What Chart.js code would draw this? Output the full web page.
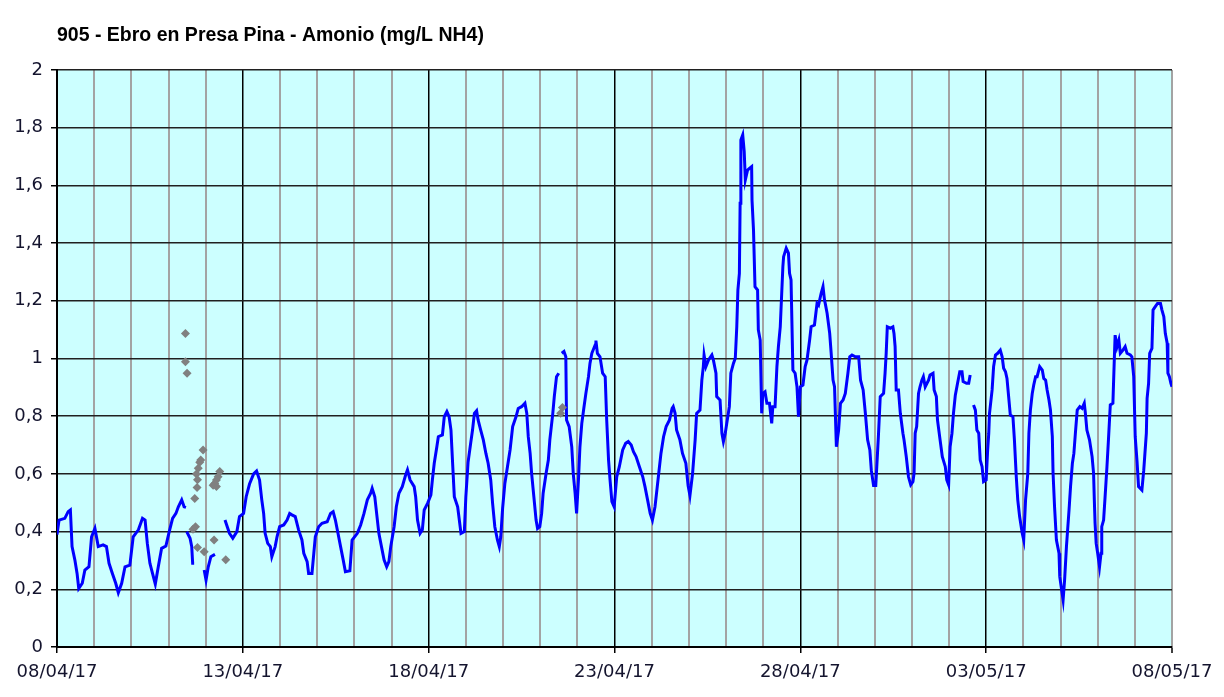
<!DOCTYPE html>
<html>
<head>
<meta charset="utf-8">
<script src="https://cdn.jsdelivr.net/npm/chart.js@4.4.1/dist/chart.umd.min.js"></script>
<style>
html,body{margin:0;padding:0;background:#ffffff;}
#wrap{width:1224px;height:697px;position:relative;}
</style>
</head>
<body>
<div id="wrap"><canvas id="c"></canvas></div>
<script>
const chartTitle = '905 - Ebro en Presa Pina - Amonio (mg/L NH4)';
const tickLabels = ['08/04/17','13/04/17','18/04/17','23/04/17','28/04/17','03/05/17','08/05/17'];

// days since 08/04/17 00:00 (null value = gap in the record)
const blueDays = [
0,0.055,0.21,0.30,0.36,0.405,0.48,0.54,0.585,0.68,
0.75,0.86,0.93,1.02,1.11,1.24,1.33,1.40,1.49,1.58,
1.65,1.74,1.83,1.96,2.05,2.19,2.30,2.37,2.43,2.50,
2.57,2.645,2.725,2.815,2.93,3.02,3.11,3.20,3.265,3.355,
3.42,3.47,3.48,3.49,3.58,3.625,3.65,3.69,3.8,3.96,
4.01,4.07,4.14,4.25,4.4,4.52,4.64,4.73,4.84,4.91,
5.02,5.09,5.18,5.29,5.37,5.45,5.51,5.56,5.60,5.67,
5.74,5.78,5.87,5.92,5.99,6.10,6.19,6.26,6.32,6.41,
6.50,6.59,6.64,6.73,6.77,6.86,6.91,6.95,7.04,7.13,
7.27,7.36,7.43,7.49,7.56,7.63,7.70,7.76,7.88,7.94,
8.08,8.17,8.26,8.35,8.44,8.48,8.55,8.60,8.66,8.73,
8.80,8.87,8.93,8.98,9.07,9.13,9.20,9.29,9.38,9.43,
9.50,9.61,9.65,9.70,9.77,9.83,9.88,9.97,10.06,10.10,
10.15,10.22,10.26,10.37,10.42,10.49,10.55,10.60,10.64,10.69,
10.78,10.87,10.96,11.00,11.06,11.13,11.18,11.23,11.29,11.33,
11.40,11.47,11.54,11.60,11.67,11.72,11.78,11.85,11.90,11.94,
11.99,12.05,12.12,12.19,12.26,12.35,12.41,12.50,12.59,12.64,
12.68,12.73,12.77,12.83,12.89,12.93,12.99,13.04,13.08,13.16,
13.22,13.26,13.34,13.38,13.44,13.50,13.54,13.58,13.64,13.69,
13.71,13.78,13.85,13.89,13.94,13.98,14.03,14.07,14.12,14.18,
14.23,14.30,14.34,14.39,14.48,14.50,14.54,14.61,14.68,14.75,
14.79,14.84,14.88,14.93,14.99,15.06,15.13,15.22,15.30,15.37,
15.45,15.51,15.58,15.67,15.76,15.82,15.89,15.96,16.02,16.09,
16.14,16.18,16.25,16.32,16.39,16.48,16.55,16.58,16.63,16.67,
16.76,16.83,16.92,16.98,17.03,17.10,17.17,17.21,17.30,17.35,
17.39,17.41,17.46,17.53,17.62,17.66,17.73,17.75,17.84,17.89,
17.93,17.98,18.02,18.09,18.13,18.20,18.25,18.29,18.32,18.36,
18.38,18.40,18.45,18.49,18.52,18.58,18.63,18.69,18.70,18.74,
18.78,18.85,18.87,18.92,18.96,18.99,19.05,19.10,19.17,19.23,
19.26,19.32,19.37,19.41,19.46,19.53,19.55,19.62,19.68,19.71,
19.75,19.80,19.86,19.91,19.95,20.00,20.07,20.13,20.18,20.25,
20.29,20.38,20.45,20.49,20.56,20.61,20.65,20.67,20.72,20.79,
20.83,20.88,20.92,20.97,21.03,21.08,21.15,21.21,21.28,21.33,
21.39,21.48,21.57,21.62,21.69,21.75,21.81,21.87,21.91,21.97,
22.03,22.10,22.15,22.24,22.28,22.31,22.34,22.42,22.49,22.52,
22.55,22.58,22.64,22.69,22.76,22.79,22.85,22.91,22.97,23.03,
23.06,23.09,23.13,23.18,23.22,23.27,23.31,23.36,23.45,23.49,
23.57,23.60,23.66,23.69,23.76,23.82,23.90,23.94,23.99,24.03,
24.08,24.12,24.17,24.23,24.29,24.35,24.38,24.47,24.53,24.57,
24.62,24.66,24.71,24.75,24.80,24.84,24.89,24.93,25.00,25.04,
25.07,25.09,25.16,25.20,25.25,25.31,25.38,25.43,25.47,25.52,
25.56,25.65,25.72,25.76,25.81,25.85,25.90,25.97,26.01,26.06,
26.12,26.15,26.19,26.24,26.28,26.33,26.37,26.44,26.51,26.55,
26.60,26.64,26.69,26.73,26.78,26.80,26.84,26.89,26.96,26.98,
27.03,27.07,27.11,27.16,27.23,27.27,27.32,27.36,27.40,27.45,
27.52,27.58,27.64,27.67,27.71,27.78,27.85,27.89,27.91,27.93,
27.96,28.00,28.05,28.09,28.11,28.16,28.20,28.25,28.29,28.34,
28.41,28.45,28.47,28.52,28.57,28.61,28.68,28.74,28.79,28.88,
28.92,28.97,29.01,29.06,29.10,29.19,29.24,29.31,29.33,29.37,
29.40,29.46,29.49,29.55,29.61,29.69,29.73,29.78,29.82,29.87,
29.89,29.93,29.97,30.00
];
const blueValues = [
0.39,0.44,0.446,0.469,0.475,0.348,0.302,0.255,0.203,0.221,
0.267,0.278,0.382,0.411,0.348,0.354,0.348,0.29,0.255,0.221,
0.188,0.221,0.278,0.284,0.382,0.406,0.446,0.44,0.359,0.29,
0.255,0.218,0.278,0.342,0.35,0.40,0.446,0.463,0.486,0.51,
0.486,0.484,null,0.40,0.377,0.348,0.29,0.29,null,0.267,
0.232,0.278,0.313,0.321,null,0.44,0.394,0.377,0.40,0.452,
0.463,0.521,0.565,0.60,0.61,0.579,0.51,0.463,0.394,0.359,
0.348,0.313,0.348,0.382,0.417,0.423,0.44,0.463,0.458,0.452,
0.406,0.371,0.325,0.296,0.255,0.255,0.325,0.382,0.417,0.429,
0.434,0.463,0.469,0.44,0.394,0.348,0.302,0.261,0.264,0.371,
0.394,0.423,0.463,0.51,0.533,0.55,0.521,0.463,0.394,0.348,
0.302,0.278,0.296,0.348,0.417,0.486,0.533,0.556,0.596,0.614,
0.579,0.556,0.521,0.44,0.394,0.406,0.475,0.498,0.527,0.579,
0.637,0.694,0.729,0.735,0.798,0.816,0.798,0.752,0.648,0.521,
0.486,0.394,0.40,0.52,0.64,0.706,0.752,0.81,0.819,0.787,
0.752,0.718,0.671,0.637,0.579,0.498,0.417,0.371,0.348,0.382,
0.481,0.567,0.625,0.683,0.764,0.798,0.827,0.833,0.845,0.81,
0.729,0.671,0.602,0.521,0.44,0.411,0.417,0.463,0.533,0.602,
0.648,0.718,0.81,0.868,0.937,0.949,null,1.018,1.024,1.006,
0.787,0.764,0.694,0.602,0.533,0.463,0.579,0.694,0.775,0.833,
0.879,0.937,0.983,1.018,1.047,1.062,1.018,1.006,0.949,0.937,
0.787,0.648,0.579,0.504,0.486,0.59,0.625,0.683,0.706,0.712,
0.70,0.677,0.66,0.625,0.59,0.556,0.51,0.463,0.44,0.486,
0.544,0.59,0.671,0.729,0.764,0.787,0.827,0.833,0.81,0.752,
0.718,0.671,0.637,0.56,0.525,0.60,0.718,0.81,0.821,0.925,
0.972,1.012,0.972,0.995,1.012,0.995,0.949,0.868,0.856,0.741,
0.712,0.741,0.775,0.833,0.949,0.983,1.001,1.11,1.237,1.295,
1.538,1.757,1.775,1.717,1.619,1.653,1.659,1.665,1.549,1.445,
1.249,1.237,1.099,1.064,0.81,0.879,0.885,0.845,0.845,0.775,
0.833,0.833,0.972,1.041,1.11,1.318,1.353,1.382,1.365,1.295,
1.272,0.96,0.949,0.902,0.798,0.902,0.908,0.972,0.995,1.064,
1.11,1.116,1.191,1.185,1.226,1.249,1.203,1.191,1.157,1.087,
1.018,0.925,0.902,0.694,0.752,0.845,0.856,0.879,0.949,1.006,
1.012,1.006,1.006,0.925,0.891,0.81,0.718,0.683,0.613,0.56,
0.56,0.729,0.868,0.879,0.949,1.018,1.11,1.105,1.11,1.087,
1.041,0.891,0.891,0.81,0.741,0.718,0.66,0.59,0.562,0.573,
0.602,0.741,0.764,0.879,0.902,0.925,0.937,0.902,0.925,0.943,
0.949,0.891,0.868,0.787,0.718,0.66,0.625,0.579,0.562,0.694,
0.741,0.81,0.873,0.914,0.954,0.954,0.92,0.914,0.914,0.943,
null,0.839,0.821,0.752,0.741,0.648,0.625,0.573,0.579,0.683,
0.741,0.81,0.891,0.972,1.012,1.018,1.029,1.006,0.966,0.954,
0.931,0.804,0.798,0.718,0.59,0.51,0.452,0.394,0.371,0.51,
0.602,0.741,0.821,0.879,0.908,0.937,0.937,0.972,0.96,0.931,
0.925,0.891,0.856,0.821,0.729,0.602,0.486,0.371,0.325,0.244,
0.198,0.163,0.232,0.348,0.475,0.556,0.637,0.671,0.74,0.821,
0.833,0.827,0.845,0.81,0.752,0.718,0.66,0.602,0.51,0.429,
0.359,0.325,0.278,0.325,0.417,0.44,0.521,0.625,0.718,0.839,
0.845,1.006,1.081,1.041,1.064,1.018,1.029,1.041,1.018,1.012,
1.006,0.937,0.729,0.642,0.556,0.544,0.613,0.741,0.862,0.914,
1.018,1.035,1.168,1.18,1.191,1.191,1.168,1.145,1.087,1.053,
0.949,0.937,0.914,0.902
];

const grayDays = [3.456,3.456,3.50,3.66,3.706,3.726,3.752,3.769,3.78,3.78,3.80,3.84,3.868,3.93,3.96,4.20,4.245,4.29,4.29,4.334,4.379,4.226,4.541,13.55,13.6];
const grayValues = [1.087,0.989,0.949,0.408,0.515,0.417,0.600,0.553,0.345,0.58,0.62,0.64,0.648,0.683,0.330,0.561,0.567,0.579,0.556,0.590,0.608,0.371,0.302,0.81,0.83];

const blueData = blueDays.map((d, i) => ({x: d, y: blueValues[i]}));
const grayData = grayDays.map((d, i) => ({x: d, y: grayValues[i]}));

const plotBackground = {
  id: 'plotBackground',
  beforeDraw(chart) {
    const {ctx, chartArea: a} = chart;
    ctx.save();
    ctx.fillStyle = '#ffffff';
    ctx.fillRect(0, 0, chart.width, chart.height);
    ctx.fillStyle = '#CCFFFF';
    ctx.fillRect(a.left, a.top, a.right - a.left, a.bottom - a.top);
    ctx.restore();
  }
};

Chart.defaults.font.family = "'DejaVu Sans', Verdana, sans-serif";

const isMajor = v => Math.abs(v - Math.round(v)) < 1e-6 && Math.round(v) % 5 === 0;

new Chart(document.getElementById('c'), {
  type: 'line',
  data: {
    datasets: [
      {
        label: 'muestras',
        data: grayData,
        showLine: false,
        pointStyle: 'rectRot',
        pointRadius: 4.5,
        pointBackgroundColor: '#808080',
        pointBorderColor: '#808080',
        pointBorderWidth: 0
      },
      {
        label: 'Amonio',
        data: blueData,
        borderColor: '#0000FF',
        borderWidth: 3,
        pointRadius: 0,
        tension: 0,
        spanGaps: false,
        fill: false
      }
    ]
  },
  plugins: [plotBackground],
  options: {
    responsive: true,
    maintainAspectRatio: false,
    animation: false,
    events: [],
    layout: {padding: {left: 0, right: 52, top: 0, bottom: 0}},
    plugins: {
      legend: {display: false},
      tooltip: {enabled: false},
      title: {
        display: true,
        text: chartTitle,
        align: 'start',
        fullSize: false,
        color: '#000000',
        font: {family: "'Liberation Sans', Arial, sans-serif", size: 19.5, weight: 'bold', lineHeight: 1.2},
        padding: {top: 24, bottom: 22.6}
      }
    },
    scales: {
      x: {
        type: 'linear',
        min: 0,
        max: 30,
        afterFit: s => { s.height = 50; },
        ticks: {
          stepSize: 1,
          autoSkip: false,
          maxRotation: 0,
          minRotation: 0,
          padding: 9,
          color: '#14142e',
          font: {size: 18},
          callback: v => isMajor(v) ? tickLabels[Math.round(v) / 5] : ''
        },
        grid: {
          color: c => (c.tick && isMajor(c.tick.value) && c.tick.value < 29.5) ? '#000000' : '#a3a3a3',
          lineWidth: c => (c.tick && isMajor(c.tick.value) && c.tick.value < 29.5) ? 1.5 : 2,
          tickColor: c => (c.tick && isMajor(c.tick.value)) ? '#000000' : 'rgba(0,0,0,0)',
          tickLength: 6,
          tickWidth: 1.5
        },
        border: {color: '#000000', width: 2}
      },
      y: {
        min: 0,
        max: 2,
        afterFit: s => { s.width = 57; },
        ticks: {
          stepSize: 0.2,
          padding: 8,
          color: '#14142e',
          font: {size: 18},
          callback: v => String(Math.round(v * 10) / 10).replace('.', ',')
        },
        grid: {
          color: '#202020',
          lineWidth: 1.5,
          tickColor: '#000000',
          tickLength: 6
        },
        border: {color: '#000000', width: 2}
      }
    }
  }
});
</script>
</body>
</html>
